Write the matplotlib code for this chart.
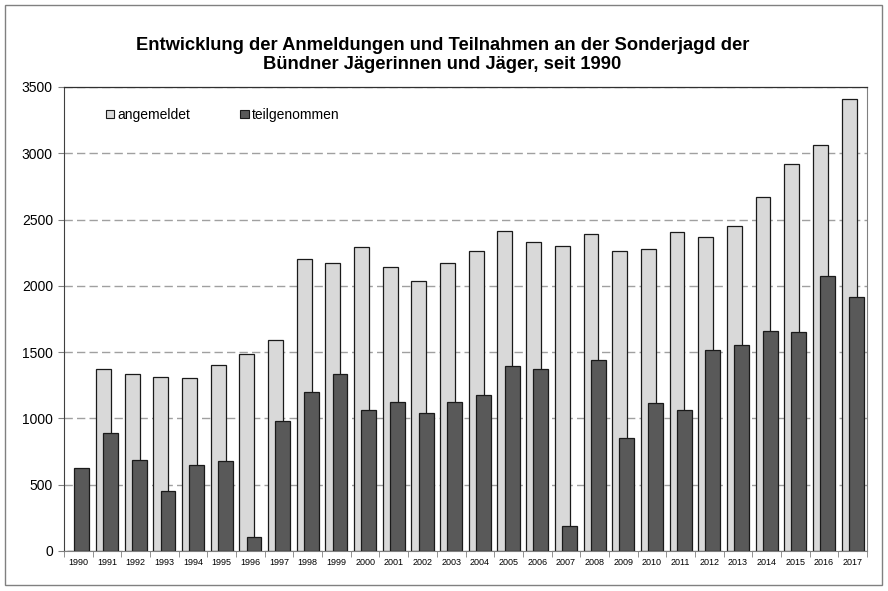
import matplotlib
matplotlib.use('Agg')
import matplotlib.pyplot as plt
from matplotlib.patches import Patch, Rectangle
import numpy as np

plt.rcParams['font.family'] = ['Liberation Sans', 'DejaVu Sans']

# Daten
years = [str(y) for y in range(1990, 2018)]
angemeldet = [0, 1375, 1335, 1315, 1302, 1405, 1488, 1591, 2202, 2175,
              2290, 2144, 2039, 2175, 2262, 2413, 2330, 2302, 2393, 2265,
              2280, 2405, 2365, 2448, 2667, 2921, 3061, 3410]
teilgenommen = [626, 890, 684, 450, 651, 676, 105, 978, 1199, 1338,
                1061, 1121, 1038, 1121, 1179, 1398, 1370, 189, 1440, 855,
                1119, 1066, 1516, 1553, 1662, 1649, 2077, 1915]
yticks = [0, 500, 1000, 1500, 2000, 2500, 3000, 3500]

title = ('Entwicklung der Anmeldungen und Teilnahmen an der Sonderjagd der\n'
         'Bündner Jägerinnen und Jäger, seit 1990')

LIGHT = '#d9d9d9'
DARK = '#595959'
EDGE = '#1a1a1a'


def main():
    fig = plt.figure(figsize=(8.88, 5.91), dpi=100)
    # Rahmen um die ganze Grafik
    fig.patches.append(Rectangle((5 / 888, 6 / 591), 877 / 888, 580 / 591,
                                 transform=fig.transFigure, fill=False,
                                 edgecolor='#808080', linewidth=1))

    ax = fig.add_axes([64 / 888, 1 - 551 / 591, 803 / 888, 464 / 591])
    x = np.arange(len(years))
    w = 0.52
    off = 0.125

    ax.bar(x - off, angemeldet, width=w, color=LIGHT, edgecolor=EDGE,
           linewidth=0.9, zorder=2)
    ax.bar(x + off, teilgenommen, width=w, color=DARK, edgecolor=EDGE,
           linewidth=0.9, zorder=3)

    ax.set_xlim(-0.5, len(years) - 0.5)
    ax.set_ylim(0, 3500)
    ax.set_yticks(yticks)
    ax.set_yticklabels([str(v) for v in yticks], fontsize=10)
    ax.set_xticks(x)
    ax.set_xticklabels(years, fontsize=6.5)
    ax.set_xticks(np.arange(-0.5, len(years)), minor=True)
    ax.tick_params(axis='x', which='major', length=0, pad=5)
    ax.tick_params(axis='x', which='minor', length=4, color='#808080')
    ax.tick_params(axis='y', length=4, color='#808080', pad=4)

    ax.yaxis.grid(True, linestyle=(0, (6, 3)), color='#a0a0a0', linewidth=1)
    ax.set_axisbelow(True)

    ax.spines['left'].set_linestyle((0, (2, 1)))
    ax.spines['left'].set_color('#404040')
    ax.spines['left'].set_linewidth(0.8)
    ax.spines['top'].set_color('#303030')
    ax.spines['top'].set_linewidth(0.9)
    ax.spines['right'].set_color('#808080')
    ax.spines['bottom'].set_color('#808080')

    handles = [Patch(facecolor=LIGHT, edgecolor=EDGE, linewidth=0.8),
               Patch(facecolor=DARK, edgecolor=EDGE, linewidth=0.8)]
    ax.legend(handles, ['angemeldet', 'teilgenommen'], ncol=2,
              frameon=False, fontsize=10, loc='center left',
              bbox_to_anchor=(0.045, 0.94), handlelength=0.6,
              handleheight=0.6, handletextpad=0.25, columnspacing=3.6,
              borderaxespad=0)

    fig.text(0.5 - 1.5 / 888, 1 - 55 / 591, title, ha='center', va='center',
             fontsize=13.2, fontweight='bold', linespacing=1.22)

    fig.savefig('out.png', dpi=100)


if __name__ == '__main__':
    main()
